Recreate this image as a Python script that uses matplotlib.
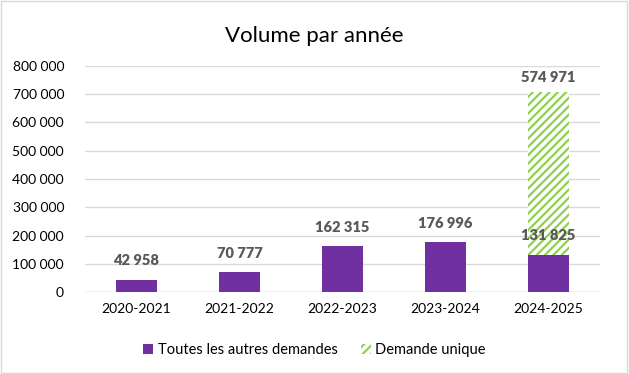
import matplotlib
matplotlib.use("Agg")
import matplotlib.pyplot as plt
from matplotlib.patches import Rectangle

categories = ["2020-2021", "2021-2022", "2022-2023", "2023-2024", "2024-2025"]
autres = [42958, 70777, 162315, 176996, 131825]
unique = [0, 0, 0, 0, 574971]
yticks = [0, 100000, 200000, 300000, 400000, 500000, 600000, 700000, 800000]

def fmt(v):
    return f"{v:,}".replace(",", " ")

plt.rcParams['font.family'] = ['Lato', 'DejaVu Sans']
plt.rcParams['hatch.linewidth'] = 1.6
plt.rcParams['hatch.color'] = '#92D050'

fig = plt.figure(figsize=(6.29, 3.74), dpi=100)
fig.patches.append(Rectangle((0.002, 0.003), 0.995, 0.994, transform=fig.transFigure,
                             fill=False, edgecolor='#D9D9D9', linewidth=1))
ax = fig.add_axes([0.135, 0.219, 0.819, 0.605])

x = list(range(len(categories)))
purple = '#7030A0'
ax.bar(x, autres, width=0.4, color=purple, zorder=3, label="Toutes les autres demandes")
uidx = [i for i in x if unique[i] > 0]
ax.bar([x[i] for i in uidx], [unique[i] for i in uidx], width=0.4,
       bottom=[autres[i] for i in uidx], color='white', edgecolor='#92D050',
       linewidth=0, hatch='////', zorder=3, label="Demande unique")

for i in x:
    ax.annotate(fmt(autres[i]), (i, autres[i]), xytext=(0, 9), textcoords='offset points',
                ha='center', va='bottom', fontsize=10.5, fontweight='heavy', color='#595959', zorder=5)
    if unique[i] > 0:
        ax.annotate(fmt(unique[i]), (i, autres[i] + unique[i]), xytext=(0, 6), textcoords='offset points',
                    ha='center', va='bottom', fontsize=10.5, fontweight='heavy', color='#595959', zorder=5)

ax.set_xlim(-0.5, 4.5)
ax.set_ylim(0, 800000)
ax.set_yticks(yticks)
ax.set_yticklabels([fmt(v) for v in yticks])
ax.set_xticks(x)
ax.set_xticklabels(categories)
ax.tick_params(axis='both', length=0, labelsize=10, colors='#000000')
ax.tick_params(axis='y', pad=15)
ax.tick_params(axis='x', pad=8)
ax.grid(axis='y', color='#D9D9D9', linewidth=1, zorder=0)
for s in ax.spines.values():
    s.set_visible(False)
ax.axhline(0, color='#D9D9D9', linewidth=1, zorder=1)

fig.text(0.5, 0.905, "Volume par année", ha='center', va='center', fontsize=16)
fig.legend(loc='center', bbox_to_anchor=(0.5, 0.064), ncol=2, frameon=False,
           fontsize=10.5, handlelength=0.7, handleheight=0.7, columnspacing=1.6, handletextpad=0.3)

fig.savefig("out.png", dpi=100)
